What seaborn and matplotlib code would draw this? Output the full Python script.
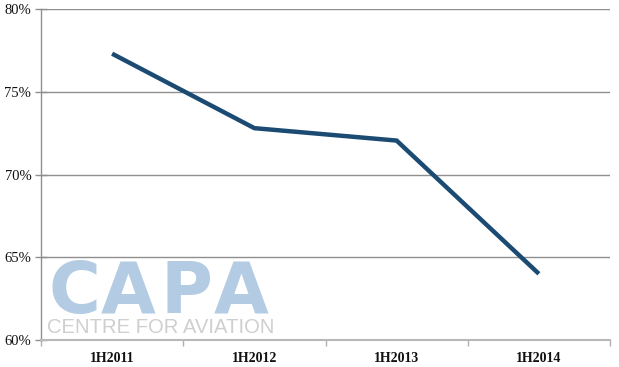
import matplotlib
matplotlib.use("Agg")
import matplotlib.pyplot as plt
import seaborn as sns
import pandas as pd
import numpy as np
from matplotlib.ticker import FixedLocator

periods = ["1H2011", "1H2012", "1H2013", "1H2014"]
values = [77.3, 72.8, 72.05, 64.0]
y_ticks = [60, 65, 70, 75, 80]

df = pd.DataFrame({"period": periods, "value": values, "pos": np.arange(len(periods))})

sns.set_theme(style="white")
serif = ["Liberation Serif", "DejaVu Serif"]
plt.rcParams["font.family"] = serif

fig = plt.figure(figsize=(6.19, 3.67), dpi=100)
ax = fig.add_axes([41 / 619, 27 / 367, 569 / 619, 331 / 367])

grid_c = "#8f8f8f"
for y in y_ticks[1:]:
    ax.axhline(y, color=grid_c, lw=1.0, zorder=1)

sns.lineplot(data=df, x="pos", y="value", ax=ax, color="#1b4a72", lw=3.2,
             zorder=3, solid_capstyle="butt", solid_joinstyle="miter")

ax.set_xlim(-0.5, len(periods) - 0.5)
ax.set_ylim(60, 80)
ax.set_xlabel("")
ax.set_ylabel("")

ax.xaxis.set_major_locator(FixedLocator(df["pos"].tolist()))
ax.set_xticklabels(periods, fontweight="bold", fontsize=10, color="#111111", family=serif)
ax.xaxis.set_minor_locator(FixedLocator([i - 0.5 for i in range(len(periods) + 1)]))
ax.tick_params(axis="x", which="major", length=0, pad=9)
ax.tick_params(axis="x", which="minor", length=4, width=1, color="#b0b0b0", direction="out", bottom=True)

ax.set_yticks(y_ticks)
ax.set_yticklabels([f"{v}%" for v in y_ticks], family=serif, fontsize=10.5, color="#111111")
ax.tick_params(axis="y", length=8, width=1, color=grid_c, direction="inout", left=True, pad=3)

for s in ["top", "right"]:
    ax.spines[s].set_visible(False)
ax.spines["left"].set_color(grid_c)
ax.spines["left"].set_linewidth(1.0)
ax.spines["bottom"].set_color("#b8b8b8")
ax.spines["bottom"].set_linewidth(1.5)

# watermark logo
logo_letters = ["C", "A", "P", "A"]
logo_centers = [74, 128, 186, 241]
for ch, cx in zip(logo_letters, logo_centers):
    fig.text(cx / 619, 1 - 313 / 367, ch, fontsize=51, fontweight="bold",
             family=["DejaVu Sans"], color="#b3cce4", ha="center", va="baseline", zorder=2)
fig.text(47 / 619, 1 - 333 / 367, "CENTRE FOR AVIATION", fontsize=14.6,
         family=["Liberation Sans"], color="#cfcfcf", ha="left", va="baseline", zorder=2)

fig.savefig("out.png", dpi=100)
